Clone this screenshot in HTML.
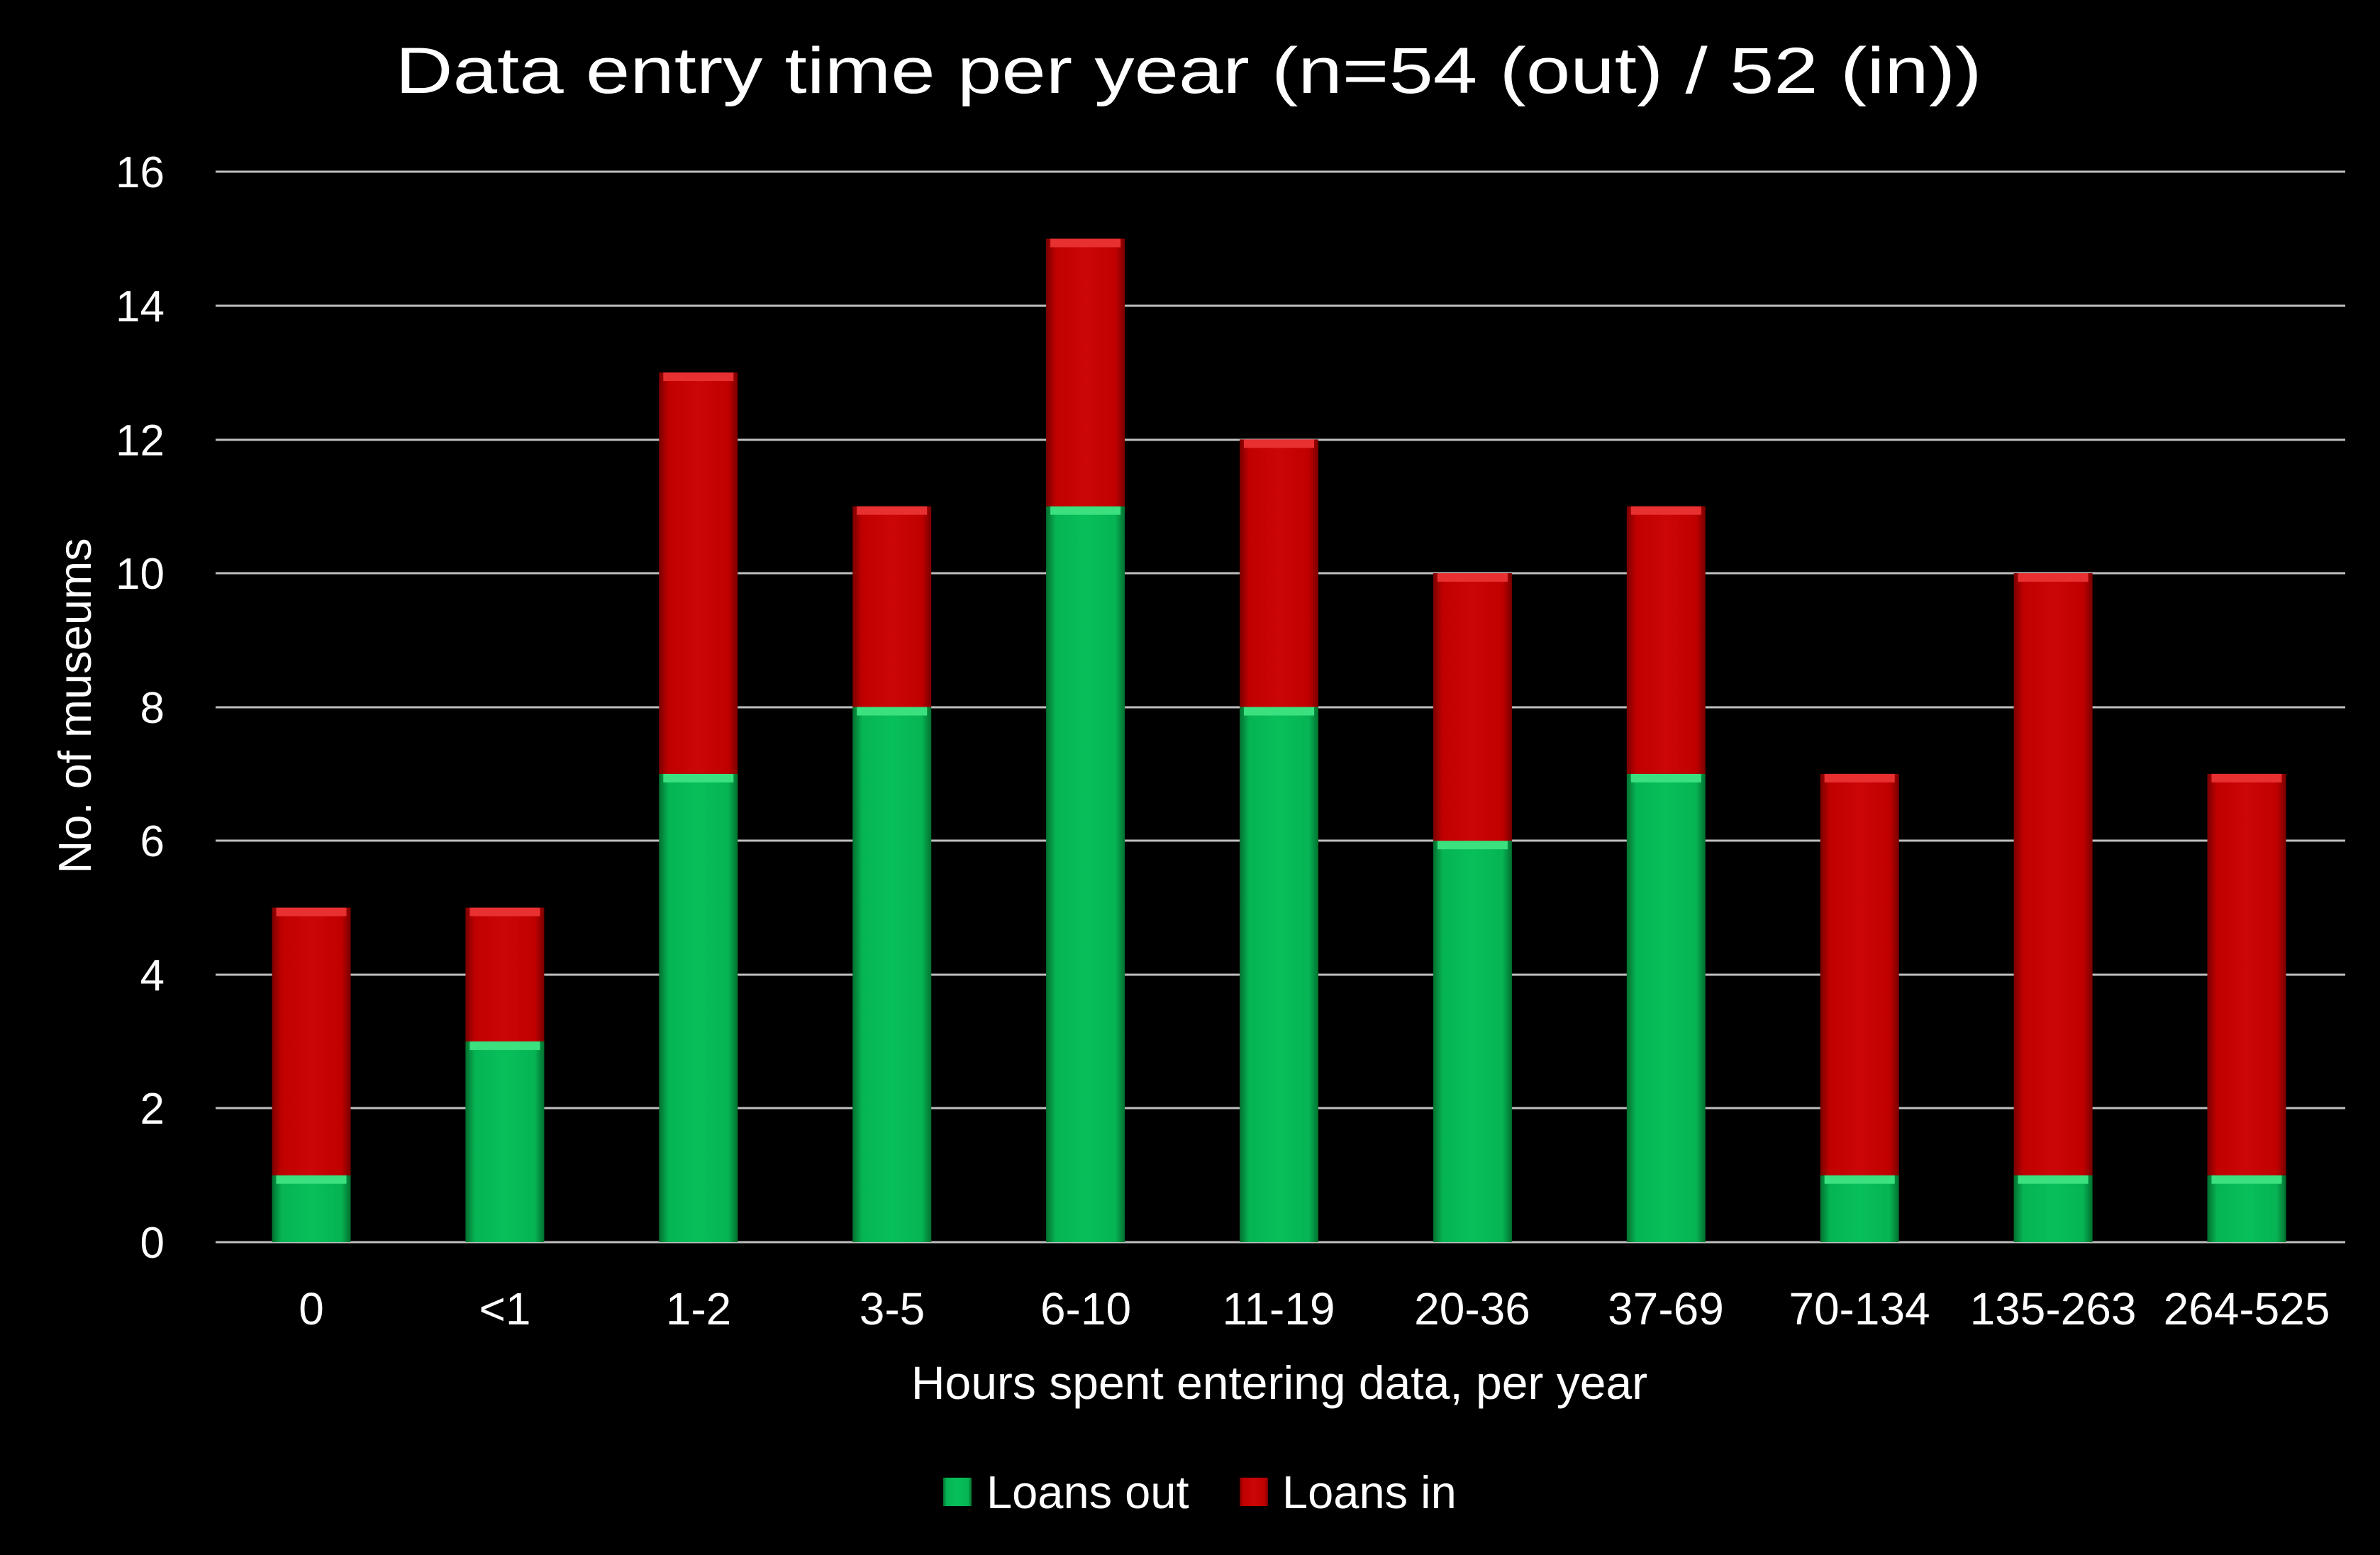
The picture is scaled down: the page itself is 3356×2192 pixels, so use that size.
<!DOCTYPE html>
<html><head><meta charset="utf-8"><style>
html,body{margin:0;padding:0;background:#000;}
svg{display:block;}
text{font-family:"Liberation Sans",sans-serif;fill:#fff;}
</style></head><body>
<svg width="3356" height="2192" viewBox="0 0 3356 2192" xmlns="http://www.w3.org/2000/svg">
<defs>
<linearGradient id="g" x1="0" x2="1" y1="0" y2="0">
<stop offset="0" stop-color="#03702f"/><stop offset="0.12" stop-color="#06b454"/><stop offset="0.5" stop-color="#07c05a"/><stop offset="0.88" stop-color="#06b454"/><stop offset="1" stop-color="#03702f"/>
</linearGradient>
<linearGradient id="r" x1="0" x2="1" y1="0" y2="0">
<stop offset="0" stop-color="#7a0000"/><stop offset="0.12" stop-color="#c00000"/><stop offset="0.5" stop-color="#cc0606"/><stop offset="0.88" stop-color="#c00000"/><stop offset="1" stop-color="#7a0000"/>
</linearGradient>
</defs>
<rect width="3356" height="2192" fill="#000"/>
<text x="1676" y="131" font-size="92" text-anchor="middle" textLength="2237" lengthAdjust="spacingAndGlyphs">Data entry time per year (n=54 (out) / 52 (in))</text>
<g stroke="#bfbfbf" stroke-width="3">
<line x1="304" x2="3307" y1="242" y2="242"/><line x1="304" x2="3307" y1="431" y2="431"/>
<line x1="304" x2="3307" y1="620" y2="620"/><line x1="304" x2="3307" y1="808" y2="808"/>
<line x1="304" x2="3307" y1="997" y2="997"/><line x1="304" x2="3307" y1="1185" y2="1185"/>
<line x1="304" x2="3307" y1="1374" y2="1374"/><line x1="304" x2="3307" y1="1562" y2="1562"/>
<line x1="304" x2="3307" y1="1751" y2="1751"/>
</g>
<g font-size="62" text-anchor="end">
<text x="232" y="1773">0</text><text x="232" y="1584">2</text><text x="232" y="1396">4</text>
<text x="232" y="1207">6</text><text x="232" y="1019">8</text><text x="232" y="830">10</text>
<text x="232" y="642">12</text><text x="232" y="453">14</text><text x="232" y="264">16</text>
</g>
<g>
<rect x="383.5" y="1656.7" width="111" height="94.3" fill="url(#g)"/><rect x="389.5" y="1656.7" width="99" height="12" fill="#3be07f"/>
<rect x="383.5" y="1279.5" width="111" height="377.2" fill="url(#r)"/><rect x="389.5" y="1279.5" width="99" height="12" fill="#e83030"/>

<rect x="656.4" y="1468.1" width="111" height="282.9" fill="url(#g)"/><rect x="662.4" y="1468.1" width="99" height="12" fill="#3be07f"/>
<rect x="656.4" y="1279.5" width="111" height="188.6" fill="url(#r)"/><rect x="662.4" y="1279.5" width="99" height="12" fill="#e83030"/>

<rect x="929.3" y="1090.9" width="111" height="660.1" fill="url(#g)"/><rect x="935.3" y="1090.9" width="99" height="12" fill="#3be07f"/>
<rect x="929.3" y="525.1" width="111" height="565.8" fill="url(#r)"/><rect x="935.3" y="525.1" width="99" height="12" fill="#e83030"/>

<rect x="1202.2" y="996.6" width="111" height="754.4" fill="url(#g)"/><rect x="1208.2" y="996.6" width="99" height="12" fill="#3be07f"/>
<rect x="1202.2" y="713.7" width="111" height="282.9" fill="url(#r)"/><rect x="1208.2" y="713.7" width="99" height="12" fill="#e83030"/>

<rect x="1475.1" y="713.7" width="111" height="1037.3" fill="url(#g)"/><rect x="1481.1" y="713.7" width="99" height="12" fill="#3be07f"/>
<rect x="1475.1" y="336.5" width="111" height="377.2" fill="url(#r)"/><rect x="1481.1" y="336.5" width="99" height="12" fill="#e83030"/>

<rect x="1748" y="996.6" width="111" height="754.4" fill="url(#g)"/><rect x="1754" y="996.6" width="99" height="12" fill="#3be07f"/>
<rect x="1748" y="619.4" width="111" height="377.2" fill="url(#r)"/><rect x="1754" y="619.4" width="99" height="12" fill="#e83030"/>

<rect x="2020.9" y="1185.2" width="111" height="565.8" fill="url(#g)"/><rect x="2026.9" y="1185.2" width="99" height="12" fill="#3be07f"/>
<rect x="2020.9" y="808" width="111" height="377.2" fill="url(#r)"/><rect x="2026.9" y="808" width="99" height="12" fill="#e83030"/>

<rect x="2293.8" y="1090.9" width="111" height="660.1" fill="url(#g)"/><rect x="2299.8" y="1090.9" width="99" height="12" fill="#3be07f"/>
<rect x="2293.8" y="713.7" width="111" height="377.2" fill="url(#r)"/><rect x="2299.8" y="713.7" width="99" height="12" fill="#e83030"/>

<rect x="2566.7" y="1656.7" width="111" height="94.3" fill="url(#g)"/><rect x="2572.7" y="1656.7" width="99" height="12" fill="#3be07f"/>
<rect x="2566.7" y="1090.9" width="111" height="565.8" fill="url(#r)"/><rect x="2572.7" y="1090.9" width="99" height="12" fill="#e83030"/>

<rect x="2839.6" y="1656.7" width="111" height="94.3" fill="url(#g)"/><rect x="2845.6" y="1656.7" width="99" height="12" fill="#3be07f"/>
<rect x="2839.6" y="808" width="111" height="848.7" fill="url(#r)"/><rect x="2845.6" y="808" width="99" height="12" fill="#e83030"/>

<rect x="3112.5" y="1656.7" width="111" height="94.3" fill="url(#g)"/><rect x="3118.5" y="1656.7" width="99" height="12" fill="#3be07f"/>
<rect x="3112.5" y="1090.9" width="111" height="565.8" fill="url(#r)"/><rect x="3118.5" y="1090.9" width="99" height="12" fill="#e83030"/>
</g>
<g font-size="64" text-anchor="middle">
<text x="439" y="1867">0</text><text x="712" y="1867">&lt;1</text><text x="985" y="1867">1-2</text>
<text x="1258" y="1867">3-5</text><text x="1531" y="1867">6-10</text><text x="1803" y="1867">11-19</text>
<text x="2076" y="1867">20-36</text><text x="2349" y="1867">37-69</text><text x="2622" y="1867">70-134</text>
<text x="2895" y="1867">135-263</text><text x="3168" y="1867">264-525</text>
</g>
<text x="1804" y="1972" font-size="66" text-anchor="middle">Hours spent entering data, per year</text>
<text transform="translate(128,995) rotate(-90)" font-size="65" text-anchor="middle">No. of museums</text>
<rect x="1330" y="2083" width="40" height="40" fill="url(#g)"/>
<text x="1391" y="2126" font-size="65">Loans out</text>
<rect x="1748" y="2083" width="40" height="40" fill="url(#r)"/>
<text x="1808" y="2126" font-size="65">Loans in</text>
</svg>
</body></html>
